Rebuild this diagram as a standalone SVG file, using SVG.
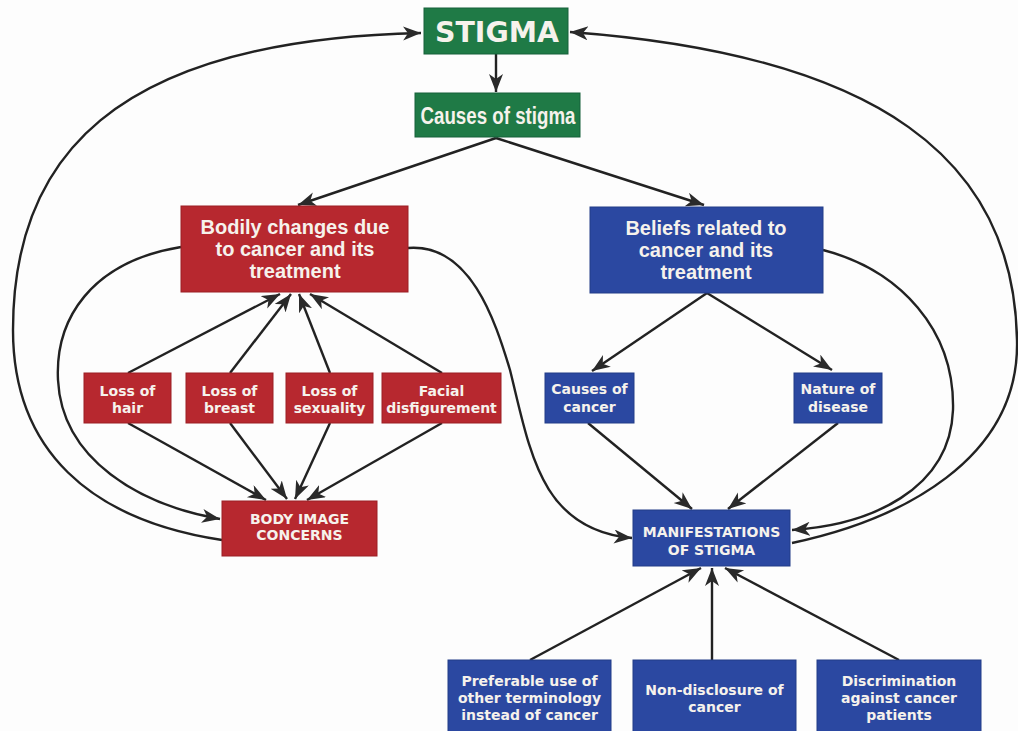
<svg xmlns="http://www.w3.org/2000/svg" width="1018" height="731" viewBox="0 0 1018 731">
<defs>
<style>
.g{fill:#1f7a46;stroke:#17613a;stroke-width:1}
.r{fill:#b7282f;stroke:#9b1f25;stroke-width:1}
.b{fill:#2b48a1;stroke:#233c88;stroke-width:1}
text{fill:#f6f2ec;text-anchor:middle;font-weight:bold}
.big{font-family:"Liberation Sans",Arial,sans-serif;font-size:20px}
.sm{font-family:"DejaVu Sans",Verdana,sans-serif;font-size:14px}
.c{fill:none;stroke:#222;stroke-width:2.4;marker-end:url(#ah)}
</style>
<marker id="ah" markerUnits="userSpaceOnUse" markerWidth="20" markerHeight="16" refX="18" refY="7" orient="auto">
<path d="M0,0 L18,7 L0,14 L5,7 Z" fill="#2a2a2a"/>
</marker>
</defs>
<rect width="1018" height="731" fill="#fdfdfd"/>

<g id="connectors">
<path class="c" d="M496,54 L496,92"/>
<path class="c" d="M496,138 L298,205"/>
<path class="c" d="M496,138 L704,205"/>
<path class="c" d="M128,373 L280,294"/>
<path class="c" d="M230,373 L291,294"/>
<path class="c" d="M330,373 L299,294"/>
<path class="c" d="M442,373 L310,294"/>
<path class="c" d="M128,423 L266,500"/>
<path class="c" d="M230,423 L287,499"/>
<path class="c" d="M330,423 L295,499"/>
<path class="c" d="M442,423 L307,500"/>
<path class="c" d="M181,247 C90,262 55,320 58,380 C62,460 140,505 220,519"/>
<path class="c" d="M222,540 C90,520 13,450 13,330 C13,160 110,40 421,33"/>
<path class="c" d="M408,248 C470,243 495,320 510,370 C530,450 540,530 632,538"/>
<path class="c" d="M707,293 L592,371"/>
<path class="c" d="M707,293 L832,370"/>
<path class="c" d="M588,423 L692,509"/>
<path class="c" d="M838,423 L728,509"/>
<path class="c" d="M823,250 C900,270 955,330 953,410 C950,490 870,525 792,530"/>
<path class="c" d="M792,543 C900,520 1020,460 1017,340 C1014,160 880,55 570,32"/>
<path class="c" d="M530,660 L701,568"/>
<path class="c" d="M712,660 L712,568"/>
<path class="c" d="M899,660 L725,568"/>
</g>

<g id="stigma">
<rect class="g" x="424" y="8" width="144" height="46"/>
<text x="497" y="42" textLength="124" lengthAdjust="spacingAndGlyphs" style="font-family:'DejaVu Sans',Verdana,sans-serif;font-size:29px">STIGMA</text>
</g>
<g id="causes-of-stigma">
<rect class="g" x="415" y="93" width="165" height="44"/>
<text x="498" y="124" textLength="155" lengthAdjust="spacingAndGlyphs" style="font-family:'Liberation Sans',Arial,sans-serif;font-size:23px">Causes of stigma</text>
</g>
<g id="bodily-changes">
<rect class="r" x="181" y="206" width="227" height="86"/>
<text class="big" x="295" y="234">Bodily changes due</text>
<text class="big" x="295" y="256">to cancer and its</text>
<text class="big" x="295" y="278">treatment</text>
</g>
<g id="beliefs">
<rect class="b" x="590" y="207" width="233" height="86"/>
<text class="big" x="706" y="235">Beliefs related to</text>
<text class="big" x="706" y="257">cancer and its</text>
<text class="big" x="706" y="279">treatment</text>
</g>
<g id="loss-of-hair">
<rect class="r" x="84" y="373" width="87" height="50"/>
<text class="sm" x="127.5" y="396">Loss of</text>
<text class="sm" x="127.5" y="413">hair</text>
</g>
<g id="loss-of-breast">
<rect class="r" x="186" y="373" width="87" height="50"/>
<text class="sm" x="229.5" y="396">Loss of</text>
<text class="sm" x="229.5" y="413">breast</text>
</g>
<g id="loss-of-sexuality">
<rect class="r" x="286" y="373" width="87" height="50"/>
<text class="sm" x="329.5" y="396">Loss of</text>
<text class="sm" x="329.5" y="413">sexuality</text>
</g>
<g id="facial-disfigurement">
<rect class="r" x="382" y="373" width="119" height="50"/>
<text class="sm" x="441.5" y="396">Facial</text>
<text class="sm" x="441.5" y="413">disfigurement</text>
</g>
<g id="causes-of-cancer">
<rect class="b" x="545" y="373" width="89" height="50"/>
<text class="sm" x="589.5" y="394">Causes of</text>
<text class="sm" x="589.5" y="412">cancer</text>
</g>
<g id="nature-of-disease">
<rect class="b" x="794" y="373" width="88" height="50"/>
<text class="sm" x="838" y="394">Nature of</text>
<text class="sm" x="838" y="412">disease</text>
</g>
<g id="body-image-concerns">
<rect class="r" x="222" y="501" width="155" height="55"/>
<text class="sm" x="299.5" y="524">BODY IMAGE</text>
<text class="sm" x="299.5" y="540">CONCERNS</text>
</g>
<g id="manifestations">
<rect class="b" x="633" y="510" width="157" height="56"/>
<text class="sm" x="711.5" y="537">MANIFESTATIONS</text>
<text class="sm" x="711.5" y="555">OF STIGMA</text>
</g>
<g id="preferable-terminology">
<rect class="b" x="448" y="660" width="163" height="75"/>
<text class="sm" x="529.5" y="686">Preferable use of</text>
<text class="sm" x="529.5" y="703">other terminology</text>
<text class="sm" x="529.5" y="720">instead of cancer</text>
</g>
<g id="non-disclosure">
<rect class="b" x="633" y="660" width="163" height="75"/>
<text class="sm" x="714.5" y="695">Non-disclosure of</text>
<text class="sm" x="714.5" y="712">cancer</text>
</g>
<g id="discrimination">
<rect class="b" x="817" y="660" width="164" height="75"/>
<text class="sm" x="899" y="686">Discrimination</text>
<text class="sm" x="899" y="703">against cancer</text>
<text class="sm" x="899" y="720">patients</text>
</g>
</svg>
